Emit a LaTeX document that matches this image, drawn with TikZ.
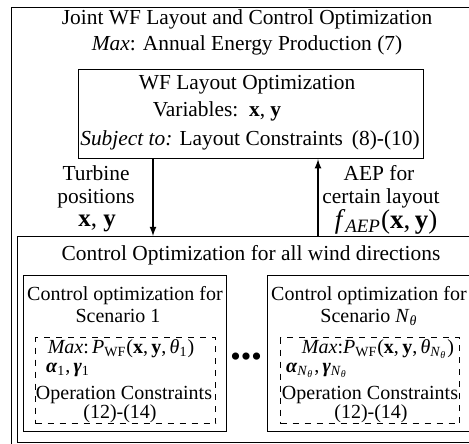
\documentclass[tikz,border=0pt]{standalone}
\usepackage{amsmath}
\usepackage{fontspec}
\setmainfont{Liberation Serif}
\usetikzlibrary{arrows,calc}

\begin{document}
\begin{tikzpicture}[x=0.5pt,y=-0.5pt]

    \tikzstyle{box}=[draw,line width=0.6pt,anchor=north west,inner sep=0pt]
    \tikzstyle{dbox}=[box,dashed]
    \tikzstyle{txt}=[font=\fontsize{10.7}{13}\selectfont,inner sep=0pt,anchor=base]
    \tikzstyle{stxt}=[txt,font=\fontsize{10}{12}\selectfont]
    \tikzstyle{flow}=[line width=0.6pt,-latex]

\useasboundingbox (0,0) rectangle (469,443);

% frames
\node (joint) [box,minimum width=240pt,minimum height=235pt] at (10.5,7) {};
\node (layout) [box,minimum width=172.5pt,minimum height=44.5pt] at (78,69) {};
\node (control) [box,minimum width=236pt,minimum height=103pt] at (17,236) {};
\node (scen_1) [box,minimum width=101.5pt,minimum height=78pt] at (23,275) {};
\node (scen_N) [box,minimum width=102pt,minimum height=78pt] at (267,275) {};
\node (prob_1) [dbox,minimum width=90pt,minimum height=43pt] at (35,337) {};
\node (prob_N) [dbox,minimum width=89.5pt,minimum height=43pt] at (280,337) {};

% top level
\node (jtitle) [txt] at (247,25) {Joint WF Layout and Control Optimization};
\node (jobj) [txt] at (247,51) {\textit{Max}: Annual Energy Production (7)};

\node (ltitle) [txt] at (247,90) {WF Layout Optimization};
\node (lvars) [txt] at (217,117) {Variables: \,\textbf{x}, \textbf{y}};
\node (lcons) [txt] at (250,145) {\textit{Subject to:} Layout Constraints \,(8)-(10)};

% exchange between the two levels
\coordinate (down) at (153,0);
\coordinate (up) at (318,0);
\draw[flow] (layout.south -| down) -- (control.north -| down);
\draw[flow] (control.north -| up) -- (layout.south -| up);

\node (pos_1) [txt] at (96,180) {Turbine};
\node (pos_2) [txt] at (96,203) {positions};
\node (pos_3) [txt,font=\fontsize{12.5}{14}\selectfont] at (97,226) {\textbf{x}, \textbf{y}};

\node (aep_1) [txt] at (379,180) {AEP for};
\node (aep_2) [txt] at (381,203) {certain layout};
\node (aep_3) [txt,font=\fontsize{13.5}{16}\selectfont] at (386,228) {\textit{f}\textsubscript{\textit{AEP}}(\textbf{x},\,\textbf{y})};

% wind direction level
\node (ctitle) [txt] at (251,260) {Control Optimization for all wind directions};

\node (s1_title) [stxt] at (125,300) {Control optimization for};
\node (s1_name) [stxt] at (118,322) {Scenario 1};
\node (s1_obj) [stxt] at (121,353) {\textit{Max}:\,\textit{P}\textsubscript{WF}(\textbf{x},\,\textbf{y},\,\textit{θ}\textsubscript{1})};
\node (s1_var) [stxt] at (68,372) {\textbf{\textit{α}}\textsubscript{1},\,\textbf{\textit{γ}}\textsubscript{1}};
\node (s1_cons) [stxt] at (124,399) {Operation Constraints};
\node (s1_eq) [stxt] at (120,418) {(12)-(14)};

\node (dots) [txt,anchor=center,font=\fontsize{15}{16}\selectfont] at (246,360) {\textbullet\textbullet\textbullet};

\node (sN_title) [stxt] at (369,300) {Control optimization for};
\node (sN_name) [stxt] at (369,322) {Scenario \textit{N}\textsubscript{\textit{θ}}};
\node (sN_obj) [stxt] at (378,353) {\textit{Max}:\textit{P}\textsubscript{WF}(\textbf{x},\,\textbf{y},\,\textit{θ}\textsubscript{\textit{N}\textsubscript{\textit{θ}}})};
\node (sN_var) [stxt] at (317,372) {\textbf{\textit{α}}\textsubscript{\textit{N}\textsubscript{\textit{θ}}},\,\textbf{\textit{γ}}\textsubscript{\textit{N}\textsubscript{\textit{θ}}}};
\node (sN_cons) [stxt] at (370,399) {Operation Constraints};
\node (sN_eq) [stxt] at (371,418) {(12)-(14)};

\end{tikzpicture}
\end{document}
